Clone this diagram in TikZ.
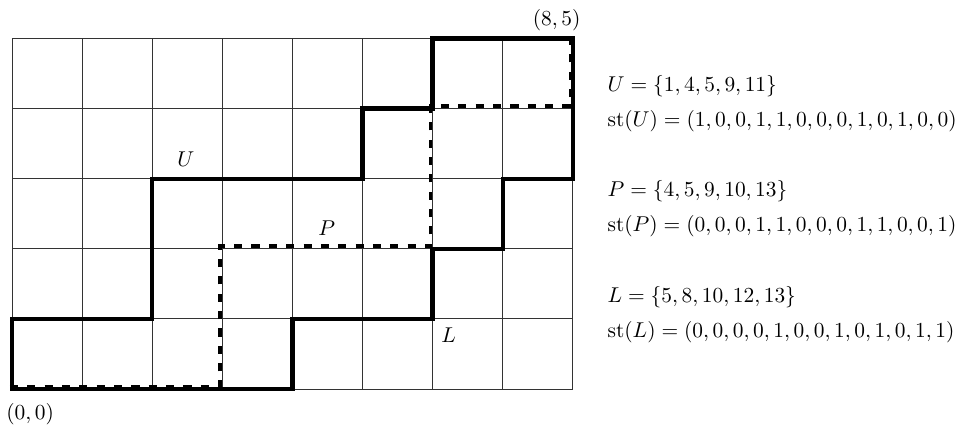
\documentclass[tikz,border=0pt]{standalone}
\begin{document}
\begin{tikzpicture}[x=1.15cm,y=1.15cm,
  gridline/.style={line width=0.4pt,black!80},
  solidpath/.style={line width=2pt,line cap=rect,line join=miter},
  dashpath/.style={line width=1.8pt,dash pattern=on 3.8pt off 4.3pt},
  lbl/.style={inner sep=0pt,anchor=base},
  info/.style={inner sep=0pt,anchor=base west}]
\useasboundingbox (-0.171,-0.542) rectangle (13.609,5.549);
\draw[gridline,step=1] (0,0) grid (8,5);
% U
\draw[solidpath] (0,0) -- (0,1) -- (2,1) -- (2,3) -- (5,3) -- (5,4) -- (6,4) -- (6,5) -- (8,5);
% L
\draw[solidpath] (0,0) -- (4,0) -- (4,1) -- (6,1) -- (6,2) -- (7,2) -- (7,3) -- (8,3) -- (8,5);
% P
\draw[dashpath,shift={(-0.03,0.035)}] (0,0) -- (3,0) -- (3,2) -- (6,2) -- (6,4) -- (8,4) -- (8,5);
\node[lbl] (lU) at (2.48,3.17) {$U$};
\node[lbl] (lP) at (4.49,2.19) {$P$};
\node[lbl] (lL) at (6.23,0.67) {$L$};
\node[lbl] (c85) at (7.77,5.19) {$(8,5)$};
\node[lbl] (c00) at (0.26,-0.43) {$(0,0)$};
\node[info] (sU) at (8.49,4.24) {$U=\{1,4,5,9,11\}$};
\node[info] (tU) at (8.49,3.74) {$\mathrm{st}(U)=(1,0,0,1,1,0,0,0,1,0,1,0,0)$};
\node[info] (sP) at (8.49,2.74) {$P=\{4,5,9,10,13\}$};
\node[info] (tP) at (8.49,2.24) {$\mathrm{st}(P)=(0,0,0,1,1,0,0,0,1,1,0,0,1)$};
\node[info] (sL) at (8.49,1.24) {$L=\{5,8,10,12,13\}$};
\node[info] (tL) at (8.49,0.74) {$\mathrm{st}(L)=(0,0,0,0,1,0,0,1,0,1,0,1,1)$};
\end{tikzpicture}
\end{document}
